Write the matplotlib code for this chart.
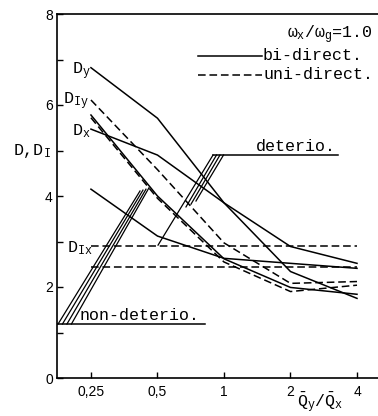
#!/usr/bin/env python3
# -*- coding: utf-8 -*-
"""
Ductility D and damage index D_I versus the strength ratio Qy/Qx,
bi-directional (solid) and uni-directional (dashed) excitation.
"""
import matplotlib
matplotlib.use("Agg")
import matplotlib.pyplot as plt  # noqa: E402

# strength ratio Qy/Qx
ratio = [0.25, 0.5, 1, 2, 4]
ratio_labels = ["0,25", "0,5", "1", "2", "4"]

# bi-directional input (solid)
bi_Dy = [6.82, 5.71, 3.85, 2.34, 1.75]
bi_Dx = [5.47, 4.90, 3.85, 2.89, 2.52]
bi_Dx_nd = [4.15, 3.12, 2.63, 2.52, 2.41]
bi_Dy_nd = [5.78, 4.00, 2.62, 1.99, 1.84]

# uni-directional input (dashed)
uni_DIy = [6.11, 4.58, 2.97, 2.08, 2.12]
uni_Dy_nd = [5.72, 3.95, 2.55, 1.90, 2.04]
uni_DIx = [2.91, 2.91, 2.91, 2.91, 2.91]
uni_Dx_nd = [2.43, 2.43, 2.43, 2.43, 2.43]

MONO = ["Liberation Mono", "DejaVu Sans"]
LW = 1.1
DASH = (5, 2.5)


def setup_style():
    plt.rcParams.update({
        "font.family": MONO,
        "mathtext.fontset": "custom",
        "mathtext.rm": "Liberation Mono",
        "mathtext.it": "Liberation Mono",
        "mathtext.tt": "Liberation Mono",
        "axes.linewidth": 1.2,
    })


def leader(ax, xs, ys):
    ax.plot(xs, ys, color="black", lw=0.9, clip_on=False)


def main():
    setup_style()
    fig = plt.figure(figsize=(3.78, 4.16), dpi=100)
    ax = fig.add_axes([57 / 378, 38 / 416, 325 / 378, 364 / 416])

    for ys in (bi_Dy, bi_Dx, bi_Dx_nd, bi_Dy_nd):
        ax.plot(ratio, ys, color="black", lw=LW)
    for ys in (uni_DIy, uni_Dy_nd, uni_DIx, uni_Dx_nd):
        ax.plot(ratio, ys, color="black", lw=LW, dashes=DASH)

    ax.set_xscale("log", base=2)
    ax.set_xlim(0.1755, 5.19)
    ax.set_ylim(0, 8)
    ax.spines["right"].set_visible(False)

    ax.set_xticks(ratio)
    ax.set_xticklabels(ratio_labels)
    ax.xaxis.set_minor_locator(matplotlib.ticker.NullLocator())
    ax.set_yticks(range(9))
    ax.set_yticklabels([str(v) if v % 2 == 0 else "" for v in range(9)])
    ax.tick_params(direction="in", length=4, width=1.0, top=False, right=False)
    ax.tick_params(axis="x", pad=5)
    ax.tick_params(axis="y", pad=3)
    for lab in ax.get_xticklabels() + ax.get_yticklabels():
        lab.set_fontfamily("Liberation Sans")
        lab.set_fontsize(10)

    # curve labels
    fs = 12
    ax.text(0.205, 6.68, r"D$_\mathrm{y}$", fontsize=fs)
    ax.text(0.1867, 6.02, r"D$_\mathrm{Iy}$", fontsize=fs)
    ax.text(0.205, 5.34, r"D$_\mathrm{x}$", fontsize=fs)
    ax.text(0.195, 2.77, r"D$_\mathrm{Ix}$", fontsize=fs)

    # axis titles
    ax.text(0.111, 4.9, r"D,D$_\mathrm{I}$", fontsize=fs, clip_on=False)
    ax.text(2.14, -0.64, r"$\bar{\mathrm{Q}}_\mathrm{y}/\bar{\mathrm{Q}}_\mathrm{x}$",
            fontsize=fs, clip_on=False)

    # legend block
    ax.text(1.93, 7.54, r"$\omega_\mathrm{x}/\omega_\mathrm{g}$=1.0", fontsize=12,
            va="center")
    ax.plot([0.762, 1.486], [7.08, 7.08], color="black", lw=LW)
    ax.text(1.50, 7.08, "bi-direct.", fontsize=12, va="center")
    ax.plot([0.762, 1.486], [6.66, 6.66], color="black", lw=LW, dashes=DASH)
    ax.text(1.51, 6.66, "uni-direct.", fontsize=12, va="center")

    # deterio. group
    ax.plot([0.892, 3.28], [4.90, 4.90], color="black", lw=LW)
    ax.text(1.396, 4.93, "deterio.", fontsize=12, va="bottom")
    leader(ax, [0.892, 0.503], [4.90, 2.92])
    leader(ax, [0.925, 0.673], [4.90, 3.76])
    leader(ax, [0.959, 0.709], [4.90, 3.82])
    leader(ax, [0.995, 0.747], [4.90, 3.89])

    # non-deterio. group
    ax.plot([0.1755, 0.820], [1.187, 1.187], color="black", lw=LW)
    ax.text(0.223, 1.21, "non-deterio.", fontsize=12, va="bottom")
    leader(ax, [0.1775, 0.4167], [1.187, 4.11])
    leader(ax, [0.1858, 0.4299], [1.187, 4.13])
    leader(ax, [0.1947, 0.4436], [1.187, 4.15])
    leader(ax, [0.2040, 0.4576], [1.187, 4.18])

    fig.savefig("out.png", dpi=100)
    plt.close(fig)


if __name__ == "__main__":
    main()
